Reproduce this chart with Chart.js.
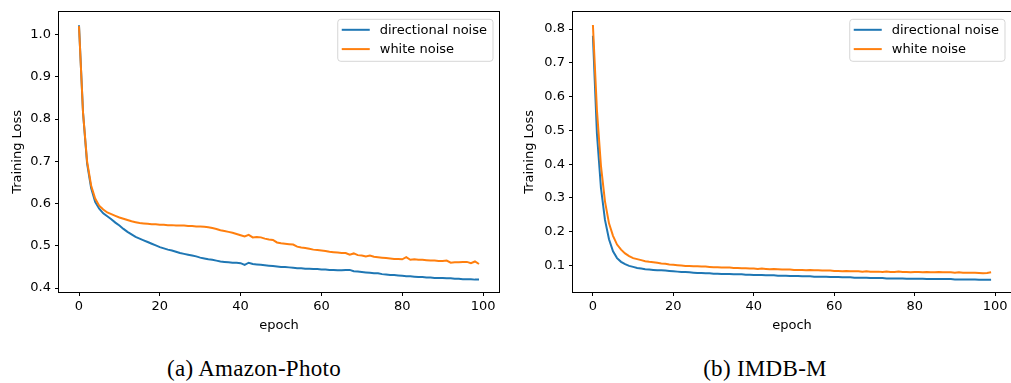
<!DOCTYPE html>
<html>
<head>
<meta charset="utf-8">
<script src="https://cdn.jsdelivr.net/npm/chart.js@4.4.0/dist/chart.umd.min.js"></script>
<style>
  body { margin: 0; background: #fff; width: 1011px; height: 383px; overflow: hidden; position: relative; }
  .box { position: absolute; top: 0; }
  .caption { position: absolute; top: 357px; font-family: "Liberation Serif", serif; font-size: 23px; line-height: 23px; letter-spacing: 0.3px; color: #000; white-space: nowrap; transform: translateX(-50%); }
</style>
</head>
<body>
<div class="box" style="left:0px"><canvas id="c1" width="505" height="340"></canvas></div>
<div class="box" style="left:505px"><canvas id="c2" width="506" height="340"></canvas></div>
<div class="caption" style="left:254px">(a) Amazon-Photo</div>
<div class="caption" style="left:765px">(b) IMDB-M</div>
<script>
// epochs on the x axis
const epochs = [
  0,1,2,3,4,5,6,7,8,9,10,11,12,13,14,15,16,17,18,19,
  20,21,22,23,24,25,26,27,28,29,30,31,32,33,34,35,36,37,38,39,
  40,41,42,43,44,45,46,47,48,49,50,51,52,53,54,55,56,57,58,59,
  60,61,62,63,64,65,66,67,68,69,70,71,72,73,74,75,76,77,78,79,
  80,81,82,83,84,85,86,87,88,89,90,91,92,93,94,95,96,97,98,99
];
const seriesNames = ['directional noise', 'white noise'];

// (a) Amazon-Photo
const amazonDirectional = [
  1.022,0.815,0.695,0.637,0.604,0.588,0.577,0.570,0.563,0.555,
  0.548,0.540,0.533,0.527,0.521,0.517,0.513,0.509,0.505,0.501,
  0.497,0.494,0.491,0.489,0.486,0.483,0.481,0.479,0.477,0.475,
  0.472,0.470,0.468,0.467,0.465,0.463,0.462,0.461,0.460,0.460,
  0.459,0.455,0.460,0.457,0.456,0.455,0.454,0.453,0.452,0.451,
  0.450,0.450,0.449,0.448,0.447,0.447,0.446,0.446,0.445,0.445,
  0.444,0.444,0.443,0.443,0.442,0.442,0.443,0.443,0.440,0.439,
  0.438,0.437,0.436,0.435,0.435,0.433,0.432,0.431,0.431,0.430,
  0.429,0.428,0.428,0.427,0.426,0.426,0.425,0.425,0.424,0.424,
  0.424,0.423,0.423,0.422,0.422,0.421,0.421,0.421,0.420,0.420
];
const amazonWhite = [
  1.020,0.815,0.700,0.643,0.612,0.595,0.586,0.579,0.575,0.571,
  0.567,0.564,0.561,0.558,0.556,0.554,0.553,0.552,0.551,0.551,
  0.550,0.550,0.549,0.549,0.548,0.548,0.548,0.547,0.547,0.546,
  0.546,0.545,0.544,0.542,0.540,0.537,0.535,0.533,0.531,0.528,
  0.525,0.522,0.526,0.520,0.521,0.520,0.517,0.515,0.514,0.508,
  0.506,0.505,0.504,0.503,0.498,0.496,0.495,0.493,0.491,0.490,
  0.489,0.488,0.486,0.485,0.484,0.483,0.483,0.479,0.482,0.478,
  0.477,0.475,0.477,0.474,0.473,0.472,0.471,0.470,0.469,0.469,
  0.468,0.473,0.467,0.468,0.467,0.467,0.466,0.465,0.465,0.464,
  0.464,0.465,0.460,0.461,0.461,0.462,0.462,0.459,0.463,0.457
];

// (b) IMDB-M
const imdbDirectional = [
  0.780,0.490,0.330,0.235,0.178,0.142,0.122,0.111,0.104,0.099,
  0.096,0.093,0.091,0.089,0.088,0.087,0.086,0.086,0.085,0.084,
  0.083,0.082,0.081,0.081,0.080,0.079,0.078,0.078,0.077,0.077,
  0.076,0.076,0.075,0.075,0.075,0.074,0.074,0.074,0.073,0.073,
  0.072,0.072,0.072,0.071,0.071,0.071,0.070,0.070,0.070,0.069,
  0.069,0.069,0.068,0.068,0.068,0.067,0.067,0.067,0.067,0.066,
  0.066,0.066,0.065,0.065,0.065,0.064,0.064,0.064,0.064,0.063,
  0.063,0.063,0.063,0.062,0.062,0.062,0.062,0.062,0.061,0.061,
  0.061,0.061,0.061,0.060,0.060,0.060,0.060,0.060,0.060,0.060,
  0.059,0.059,0.059,0.059,0.059,0.059,0.058,0.058,0.058,0.058
];
const imdbWhite = [
  0.812,0.560,0.395,0.290,0.225,0.188,0.162,0.147,0.136,0.128,
  0.122,0.119,0.116,0.113,0.111,0.110,0.108,0.106,0.105,0.103,
  0.102,0.101,0.100,0.099,0.099,0.098,0.098,0.097,0.097,0.096,
  0.095,0.095,0.094,0.094,0.094,0.093,0.093,0.092,0.092,0.091,
  0.091,0.090,0.091,0.090,0.089,0.090,0.089,0.088,0.088,0.088,
  0.087,0.087,0.087,0.086,0.087,0.086,0.086,0.085,0.085,0.085,
  0.084,0.084,0.083,0.084,0.083,0.083,0.083,0.082,0.083,0.082,
  0.082,0.082,0.081,0.082,0.081,0.081,0.082,0.081,0.081,0.080,
  0.081,0.081,0.080,0.081,0.080,0.080,0.081,0.080,0.080,0.080,
  0.079,0.080,0.079,0.079,0.079,0.079,0.078,0.077,0.078,0.080
];

const xTicks = [0, 20, 40, 60, 80, 100];
const amazonYTicks = [0.4, 0.5, 0.6, 0.7, 0.8, 0.9, 1.0];
const imdbYTicks = [0.1, 0.2, 0.3, 0.4, 0.5, 0.6, 0.7, 0.8];

const BLUE = '#1f77b4';
const ORANGE = '#ff7f0e';
const FONT = { family: 'DejaVu Sans', size: 13 };

// frame around the plot + matplotlib style legend
const framePlugin = {
    id: 'frame',
    afterDraw(chart) {
        const ctx = chart.ctx;
        const a = chart.chartArea;
        ctx.save();
        ctx.strokeStyle = '#000';
        ctx.lineWidth = 1;
        ctx.strokeRect(Math.round(a.left) - 0.5, Math.round(a.top) - 0.5,
                       Math.round(a.right - a.left) + 1, Math.round(a.bottom - a.top) + 1);

        // legend
        ctx.font = '13px "DejaVu Sans"';
        const names = chart.data.datasets.map(d => d.label);
        const textW = Math.max(...names.map(n => ctx.measureText(n).width));
        const w = 4 + 28 + 10 + textW + 6;
        const h = 42;
        const x0 = a.right - 6 - w;
        const y0 = a.top + 7.5;
        ctx.beginPath();
        ctx.roundRect(x0, y0, w, h, 3);
        ctx.fillStyle = 'rgba(255,255,255,0.8)';
        ctx.fill();
        ctx.strokeStyle = 'rgba(204,204,204,0.8)';
        ctx.stroke();
        chart.data.datasets.forEach((d, i) => {
            const y = y0 + 10.5 + i * 19.3;
            ctx.beginPath();
            ctx.moveTo(x0 + 4, y);
            ctx.lineTo(x0 + 32, y);
            ctx.strokeStyle = d.borderColor;
            ctx.lineWidth = 2;
            ctx.stroke();
            ctx.fillStyle = '#000';
            ctx.textBaseline = 'middle';
            ctx.textAlign = 'left';
            ctx.fillText(d.label, x0 + 42, y + 1);
        });
        ctx.restore();
    }
};

function lossChart(canvas, dirVals, whiteVals, yTicks, yMin, yMax, yWidth, titlePad, padRight) {
    return new Chart(canvas, {
        type: 'line',
        data: {
            datasets: [
                {
                    label: seriesNames[0],
                    data: epochs.map((e, i) => ({ x: e, y: dirVals[i] })),
                    borderColor: BLUE,
                    borderWidth: 2,
                    pointRadius: 0,
                    tension: 0,
                    order: 1
                },
                {
                    label: seriesNames[1],
                    data: epochs.map((e, i) => ({ x: e, y: whiteVals[i] })),
                    borderColor: ORANGE,
                    borderWidth: 2,
                    pointRadius: 0,
                    tension: 0,
                    order: 0
                }
            ]
        },
        options: {
            responsive: false,
            animation: false,
            layout: { padding: { left: 0, right: padRight, top: 6, bottom: 0 } },
            plugins: { legend: { display: false }, tooltip: { enabled: false } },
            scales: {
                x: {
                    type: 'linear',
                    min: -4.95,
                    max: 103.95,
                    afterBuildTicks: s => { s.ticks = xTicks.map(v => ({ value: v })); },
                    afterFit: s => { s.height = 48; },
                    grid: { drawOnChartArea: false, drawTicks: true, tickLength: 4, color: '#000' },
                    border: { display: false },
                    ticks: { color: '#000', font: FONT, padding: 3, maxRotation: 0, callback: v => String(v) },
                    title: { display: true, text: 'epoch', color: '#000', font: FONT, padding: { top: 0, bottom: 7 } }
                },
                y: {
                    min: yMin,
                    max: yMax,
                    afterBuildTicks: s => { s.ticks = yTicks.map(v => ({ value: v })); },
                    afterFit: s => { s.width = yWidth; },
                    grid: { drawOnChartArea: false, drawTicks: true, tickLength: 4, color: '#000' },
                    border: { display: false },
                    ticks: { color: '#000', font: FONT, padding: 4, callback: v => v.toFixed(1) },
                    title: { display: true, text: 'Training Loss', color: '#000', font: FONT, padding: { top: titlePad, bottom: 0 } }
                }
            }
        },
        plugins: [framePlugin]
    });
}

lossChart(document.getElementById('c1'), amazonDirectional, amazonWhite, amazonYTicks, 0.3907, 1.054, 59, 10, 6);
lossChart(document.getElementById('c2'), imdbDirectional, imdbWhite, imdbYTicks, 0.0217, 0.851, 68, 17, 0);
</script>
</body>
</html>
